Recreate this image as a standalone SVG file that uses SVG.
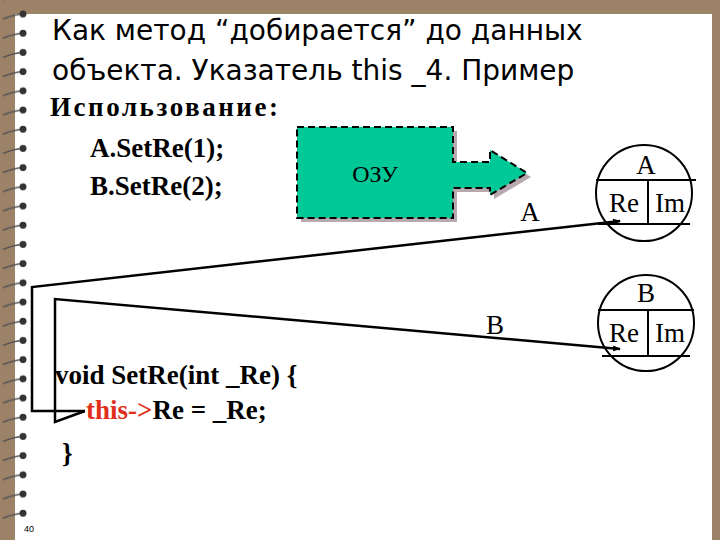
<svg xmlns="http://www.w3.org/2000/svg" width="720" height="540" viewBox="0 0 720 540">
<defs>
<style>
.t{font-family:"Liberation Serif",serif;font-size:24px;fill:#000}
.c{font-size:27px}
.b{font-weight:bold;font-size:27px}
.h{font-family:"DejaVu Sans",sans-serif;font-size:28px;fill:#000}
.ln{stroke:#000;stroke-width:2.5;fill:none}
.th{stroke:#000;stroke-width:2;fill:none}
</style>
<marker id="ar" markerWidth="8" markerHeight="8" refX="7" refY="4" orient="auto" markerUnits="userSpaceOnUse"><path d="M0,1 L8,4 L0,7 Z" fill="#000"/></marker>
<pattern id="sp" x="0" y="6" width="30" height="19.2" patternUnits="userSpaceOnUse">
<path d="M3,13 Q14,9 22,8" stroke="#555" stroke-width="1.5" fill="none"/>
<circle cx="23" cy="8" r="3.5" fill="#333"/>
</pattern>
</defs>
<rect width="720" height="540" fill="#9c8266"/>
<rect x="15" y="14" width="697" height="526" fill="#fff"/>
<rect x="0" y="0" width="32" height="520" fill="url(#sp)"/>
<text x="52" y="40" class="h">Как метод “добирается” до данных</text>
<text x="52" y="80" class="h">объекта. Указатель this _4. Пример</text>
<text x="50" y="116" class="t b" textLength="228">Использование:</text>
<text x="90" y="157" class="t b">A.SetRe(1);</text>
<text x="90" y="195" class="t b">B.SetRe(2);</text>
<text x="55" y="384" class="t b">void SetRe(int _Re) {</text>
<text x="86" y="419" class="t b"><tspan fill="#e0301c">this-&gt;</tspan>Re = _Re;</text>
<text x="62" y="462" class="t b">}</text>
<text x="24" y="532" font-family="Liberation Sans,sans-serif" font-size="9" fill="#000">40</text>
<g id="ozu">
<path d="M301,131 H457 V166 H494 V154 L531,177 L494,199 V192 H457 V222 H301 Z" fill="#b8a8b0"/>
<path d="M297,127 H453 V162 H490 V150 L527,173 L490,195 V188 H453 V218 H297 Z" fill="#00c896" stroke="#000" stroke-width="2" stroke-dasharray="7,4"/>
<text x="375" y="182" class="t" text-anchor="middle">ОЗУ</text>
</g>
<g id="objA">
<circle cx="644" cy="193" r="48" class="th"/>
<line x1="596" y1="180" x2="696" y2="180" class="th"/>
<line x1="598" y1="224" x2="690" y2="224" class="th"/>
<line x1="648" y1="180" x2="648" y2="224" class="th"/>
<text x="646" y="174" class="t c" text-anchor="middle">A</text>
<text x="624" y="212" class="t c" text-anchor="middle">Re</text>
<text x="670" y="212" class="t c" text-anchor="middle">Im</text>
</g>
<g id="objB">
<circle cx="646" cy="323" r="48" class="th"/>
<line x1="598" y1="310" x2="694" y2="310" class="th"/>
<line x1="602" y1="356" x2="690" y2="356" class="th"/>
<line x1="648" y1="310" x2="648" y2="356" class="th"/>
<text x="646" y="302" class="t c" text-anchor="middle">B</text>
<text x="624" y="342" class="t c" text-anchor="middle">Re</text>
<text x="670" y="342" class="t c" text-anchor="middle">Im</text>
</g>
<g id="connectors">
<polyline points="85,411 32,411 32,287 620,221" class="ln" marker-end="url(#ar)"/>
<polyline points="85,411 55,422 55,299 620,349" class="ln" marker-end="url(#ar)"/>
<text x="530" y="221" class="t c" text-anchor="middle">A</text>
<text x="495" y="334" class="t c" text-anchor="middle">B</text>
</g>
</svg>
